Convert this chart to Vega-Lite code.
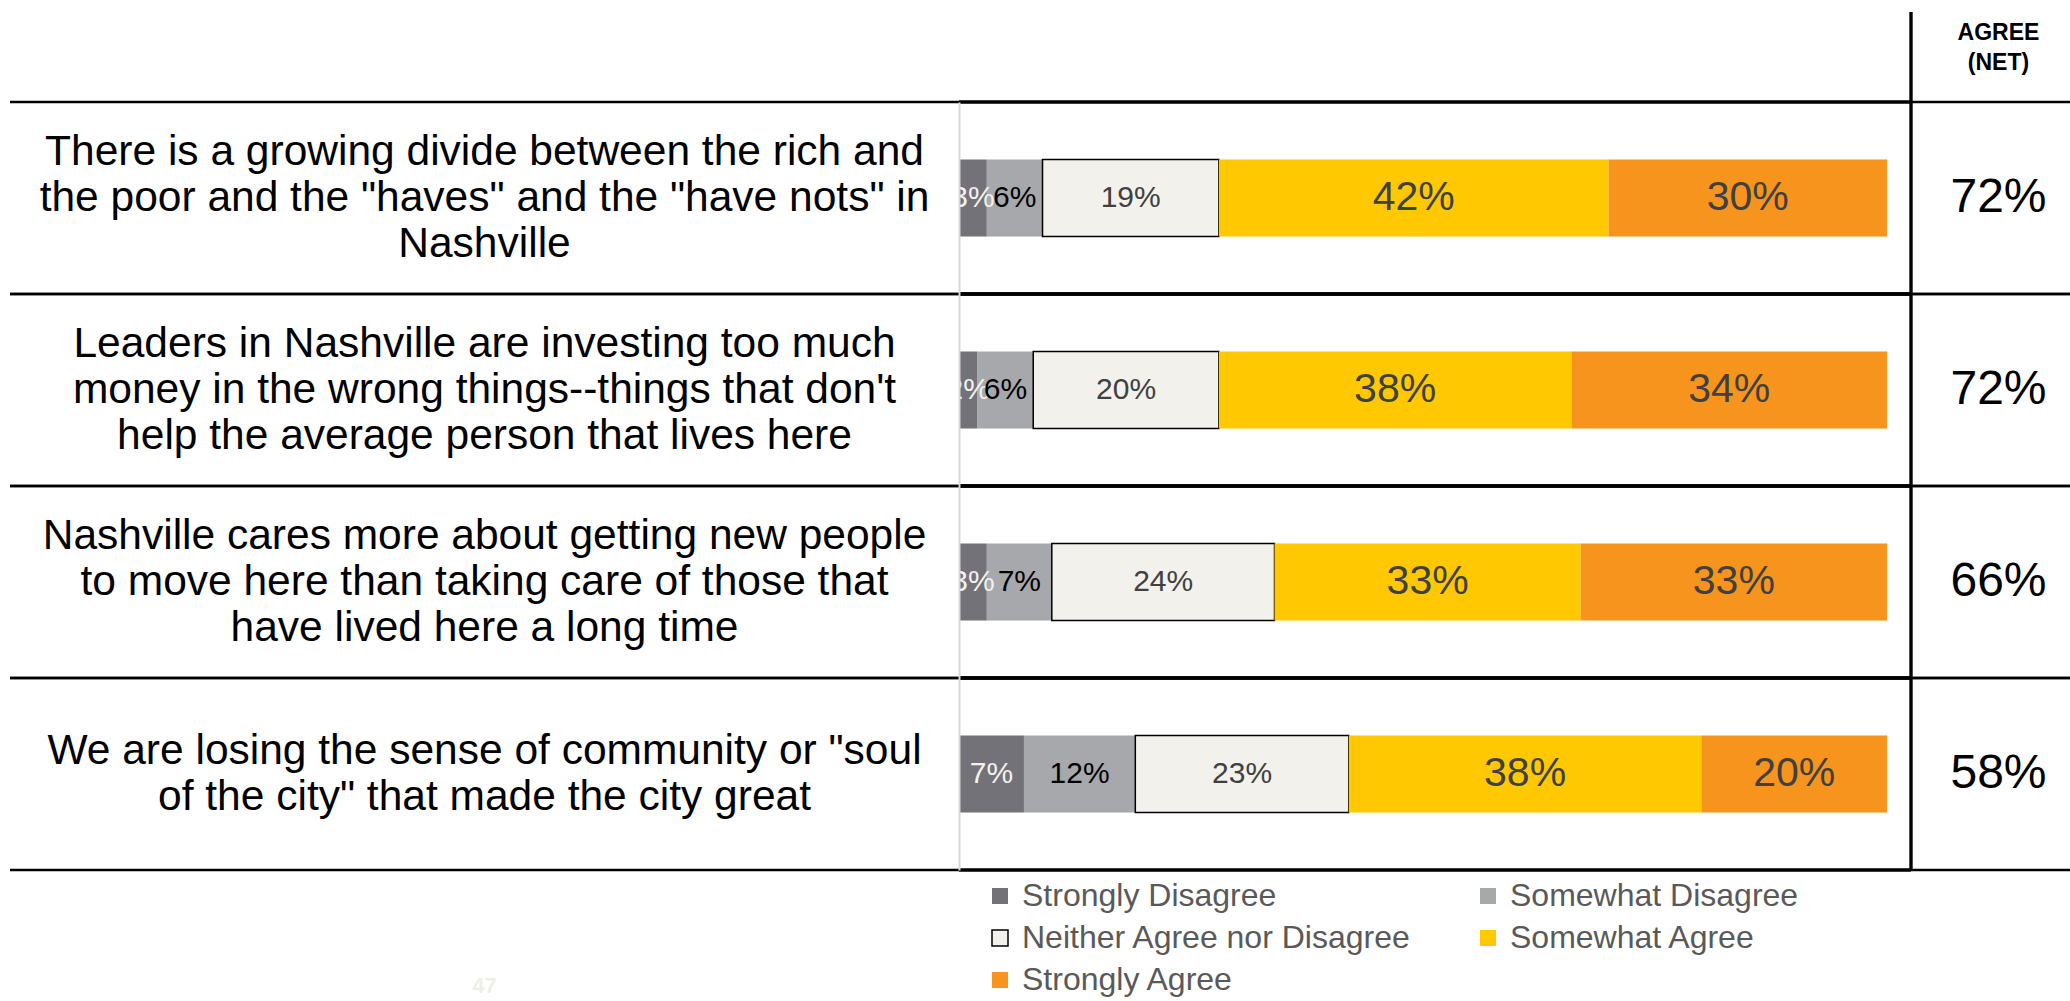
{
  "$schema": "https://vega.github.io/schema/vega-lite/v6.json",
  "autosize": {"type": "pad"},
  "padding": {"left": 8, "top": 10, "right": 0, "bottom": 0},
  "background": "white",
  "spacing": 0,
  "bounds": "flush",
  "config": {"view": {"stroke": null}, "font": "Liberation Sans", "concat": {"spacing": 0}},
  "datasets": {
    "net": [
      {"statement": "There is a growing divide between the rich and\nthe poor and the \"haves\" and the \"have nots\" in\nNashville", "net": 0.72},
      {"statement": "Leaders in Nashville are investing too much\nmoney in the wrong things--things that don't\nhelp the average person that lives here", "net": 0.72},
      {"statement": "Nashville cares more about getting new people\nto move here than taking care of those that\nhave lived here a long time", "net": 0.66},
      {"statement": "We are losing the sense of community or \"soul\nof the city\" that made the city great", "net": 0.58}
    ],
    "responses": [
      {"statement": "There is a growing divide between the rich and\nthe poor and the \"haves\" and the \"have nots\" in\nNashville", "response": "Strongly Disagree", "code": 1, "pct": 0.03},
      {"statement": "There is a growing divide between the rich and\nthe poor and the \"haves\" and the \"have nots\" in\nNashville", "response": "Somewhat Disagree", "code": 2, "pct": 0.06},
      {"statement": "There is a growing divide between the rich and\nthe poor and the \"haves\" and the \"have nots\" in\nNashville", "response": "Neither Agree nor Disagree", "code": 3, "pct": 0.19},
      {"statement": "There is a growing divide between the rich and\nthe poor and the \"haves\" and the \"have nots\" in\nNashville", "response": "Somewhat Agree", "code": 4, "pct": 0.42},
      {"statement": "There is a growing divide between the rich and\nthe poor and the \"haves\" and the \"have nots\" in\nNashville", "response": "Strongly Agree", "code": 5, "pct": 0.30},
      {"statement": "Leaders in Nashville are investing too much\nmoney in the wrong things--things that don't\nhelp the average person that lives here", "response": "Strongly Disagree", "code": 1, "pct": 0.02},
      {"statement": "Leaders in Nashville are investing too much\nmoney in the wrong things--things that don't\nhelp the average person that lives here", "response": "Somewhat Disagree", "code": 2, "pct": 0.06},
      {"statement": "Leaders in Nashville are investing too much\nmoney in the wrong things--things that don't\nhelp the average person that lives here", "response": "Neither Agree nor Disagree", "code": 3, "pct": 0.20},
      {"statement": "Leaders in Nashville are investing too much\nmoney in the wrong things--things that don't\nhelp the average person that lives here", "response": "Somewhat Agree", "code": 4, "pct": 0.38},
      {"statement": "Leaders in Nashville are investing too much\nmoney in the wrong things--things that don't\nhelp the average person that lives here", "response": "Strongly Agree", "code": 5, "pct": 0.34},
      {"statement": "Nashville cares more about getting new people\nto move here than taking care of those that\nhave lived here a long time", "response": "Strongly Disagree", "code": 1, "pct": 0.03},
      {"statement": "Nashville cares more about getting new people\nto move here than taking care of those that\nhave lived here a long time", "response": "Somewhat Disagree", "code": 2, "pct": 0.07},
      {"statement": "Nashville cares more about getting new people\nto move here than taking care of those that\nhave lived here a long time", "response": "Neither Agree nor Disagree", "code": 3, "pct": 0.24},
      {"statement": "Nashville cares more about getting new people\nto move here than taking care of those that\nhave lived here a long time", "response": "Somewhat Agree", "code": 4, "pct": 0.33},
      {"statement": "Nashville cares more about getting new people\nto move here than taking care of those that\nhave lived here a long time", "response": "Strongly Agree", "code": 5, "pct": 0.33},
      {"statement": "We are losing the sense of community or \"soul\nof the city\" that made the city great", "response": "Strongly Disagree", "code": 1, "pct": 0.07},
      {"statement": "We are losing the sense of community or \"soul\nof the city\" that made the city great", "response": "Somewhat Disagree", "code": 2, "pct": 0.12},
      {"statement": "We are losing the sense of community or \"soul\nof the city\" that made the city great", "response": "Neither Agree nor Disagree", "code": 3, "pct": 0.23},
      {"statement": "We are losing the sense of community or \"soul\nof the city\" that made the city great", "response": "Somewhat Agree", "code": 4, "pct": 0.38},
      {"statement": "We are losing the sense of community or \"soul\nof the city\" that made the city great", "response": "Strongly Agree", "code": 5, "pct": 0.20}
    ]
  },
  "hconcat": [
    {
      "width": 949,
      "height": 858,
      "data": {"name": "net"},
      "title": {"text": "47", "orient": "bottom", "color": "#EEEEE8", "fontSize": 22, "fontWeight": "bold", "offset": 105, "anchor": "middle"},
      "layer": [
        {
          "mark": {"type": "rule", "color": "#000000", "strokeWidth": 2.5},
          "encoding": {"y": {"field": "statement", "type": "nominal", "bandPosition": 0,
            "scale": {"domain": [
              "There is a growing divide between the rich and\nthe poor and the \"haves\" and the \"have nots\" in\nNashville",
              "Leaders in Nashville are investing too much\nmoney in the wrong things--things that don't\nhelp the average person that lives here",
              "Nashville cares more about getting new people\nto move here than taking care of those that\nhave lived here a long time",
              "We are losing the sense of community or \"soul\nof the city\" that made the city great"
            ], "range": [90, 858], "paddingInner": 0, "paddingOuter": 0}, "axis": null}}
        },
        {
          "mark": {"type": "rule", "color": "#000000", "strokeWidth": 2.5},
          "encoding": {"y": {"field": "statement", "type": "nominal", "bandPosition": 1}}
        },
        {
          "transform": [{"filter": {"not": {"field": "statement", "equal": "We are losing the sense of community or \"soul\nof the city\" that made the city great"}}}],
          "mark": {"type": "text", "fontSize": 42.5, "lineBreak": "\n", "lineHeight": 46, "align": "center", "baseline": "middle", "color": "#000000", "dy": -46},
          "encoding": {
            "y": {"field": "statement", "type": "nominal"},
            "text": {"field": "statement", "type": "nominal"}
          }
        },
        {
          "transform": [{"filter": {"field": "statement", "equal": "We are losing the sense of community or \"soul\nof the city\" that made the city great"}}],
          "mark": {"type": "text", "fontSize": 42.5, "lineBreak": "\n", "lineHeight": 46, "align": "center", "baseline": "middle", "color": "#000000", "dy": -23},
          "encoding": {
            "y": {"field": "statement", "type": "nominal"},
            "text": {"field": "statement", "type": "nominal"}
          }
        }
      ]
    },
    {
      "width": 952,
      "height": 858,
      "data": {"name": "responses"},
      "layer": [
        {
          "mark": {"type": "rule", "color": "#000000", "strokeWidth": 2.5},
          "encoding": {"y": {"field": "statement", "type": "nominal", "sort": null, "bandPosition": 0, "scale": {"range": [90, 858], "paddingInner": 0, "paddingOuter": 0}, "axis": {"domain": true, "domainColor": "#D9D9D9", "domainWidth": 2, "labels": false, "ticks": false, "grid": false, "title": null, "zindex": 1, "minExtent": 0, "maxExtent": 0, "offset": 0}}}
        },
        {
          "mark": {"type": "rule", "color": "#000000", "strokeWidth": 2.5},
          "encoding": {"y": {"field": "statement", "type": "nominal", "sort": null, "bandPosition": 1}}
        },
        {
          "mark": {"type": "bar", "height": {"band": 0.4}, "strokeWidth": 1.5},
          "encoding": {
            "y": {"field": "statement", "type": "nominal", "sort": null},
            "x": {"field": "pct", "type": "quantitative", "stack": "zero", "scale": {"domain": [0, 1.0259], "nice": false, "zero": true}, "axis": null},
            "order": {"field": "code", "type": "quantitative"},
            "fill": {
              "field": "response", "type": "nominal",
              "scale": {"domain": ["Strongly Disagree", "Somewhat Disagree", "Neither Agree nor Disagree", "Somewhat Agree", "Strongly Agree"], "range": ["#737279", "#A7A8AC", "#F2F1EC", "#FFC800", "#F7941D"]},
              "legend": {"title": null, "orient": "none", "legendX": 974, "legendY": 868, "columns": 2, "direction": "horizontal", "symbolType": "square", "symbolSize": 256, "symbolStrokeWidth": 1.5, "labelFont": "Liberation Sans", "labelFontSize": 32, "labelColor": "#595959", "labelOffset": 6, "labelLimit": 700, "columnPadding": 60, "rowPadding": 10}
            },
            "stroke": {
              "field": "response", "type": "nominal",
              "scale": {"domain": ["Strongly Disagree", "Somewhat Disagree", "Neither Agree nor Disagree", "Somewhat Agree", "Strongly Agree"], "range": ["transparent", "transparent", "#000000", "transparent", "transparent"]}
            }
          }
        },
        {
          "mark": {"type": "text", "clip": true, "align": "center", "baseline": "middle", "font": "Liberation Sans"},
          "encoding": {
            "y": {"field": "statement", "type": "nominal", "sort": null},
            "x": {"field": "pct", "type": "quantitative", "stack": "zero", "bandPosition": 0.5},
            "order": {"field": "code", "type": "quantitative"},
            "text": {"field": "pct", "type": "quantitative", "format": ".0%"},
            "color": {
              "field": "response", "type": "nominal",
              "scale": {"domain": ["Strongly Disagree", "Somewhat Disagree", "Neither Agree nor Disagree", "Somewhat Agree", "Strongly Agree"], "range": ["#F2F1EC", "#000000", "#404040", "#404040", "#404040"]},
              "legend": null
            },
            "size": {
              "field": "code", "type": "ordinal",
              "scale": {"type": "ordinal", "domain": [1, 2, 3, 4, 5], "range": [30, 30, 30, 41, 41]},
              "legend": null
            }
          }
        }
      ]
    },
    {
      "width": 161,
      "height": 858,
      "layer": [
        {
          "data": {"values": [{"header": "AGREE\n(NET)"}]},
          "mark": {"type": "text", "fontSize": 23, "fontWeight": "bold", "lineBreak": "\n", "lineHeight": 30, "align": "center", "baseline": "middle", "color": "#000000", "dy": -17, "dx": 7},
          "encoding": {
            "y": {"field": "header", "type": "nominal", "scale": {"range": [0, 76]}, "axis": null},
            "text": {"field": "header", "type": "nominal"}
          }
        },
        {
          "data": {"name": "net"},
          "layer": [
            {
              "mark": {"type": "rule", "color": "#000000", "strokeWidth": 2.5},
              "encoding": {"x": {"datum": 0, "type": "quantitative", "scale": {"domain": [0, 1]}, "axis": null}}
            },
            {
              "mark": {"type": "rule", "color": "#000000", "strokeWidth": 2.5},
              "encoding": {"y": {"field": "statement", "type": "nominal", "sort": null, "bandPosition": 0, "scale": {"range": [90, 858], "paddingInner": 0, "paddingOuter": 0}, "axis": null}}
            },
            {
              "mark": {"type": "rule", "color": "#000000", "strokeWidth": 2.5},
              "encoding": {"y": {"field": "statement", "type": "nominal", "sort": null, "bandPosition": 1}}
            },
            {
              "mark": {"type": "text", "fontSize": 48, "align": "center", "baseline": "middle", "color": "#000000", "dx": 7},
              "encoding": {
                "y": {"field": "statement", "type": "nominal", "sort": null},
                "text": {"field": "net", "type": "quantitative", "format": ".0%"}
              }
            }
          ]
        }
      ],
      "resolve": {"scale": {"y": "independent"}}
    }
  ]
}
